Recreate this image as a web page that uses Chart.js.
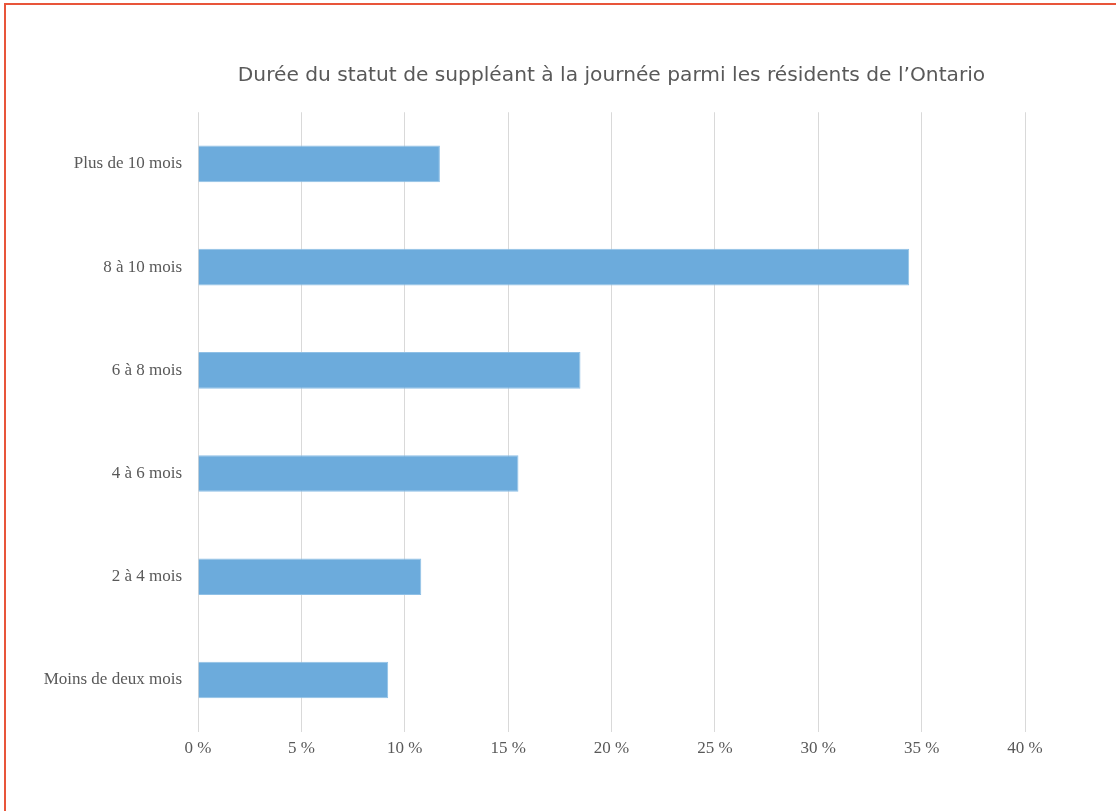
<!DOCTYPE html>
<html>
<head>
<meta charset="utf-8">
<script src="https://cdn.jsdelivr.net/npm/chart.js@4/dist/chart.umd.min.js"></script>
<style>
  html, body { margin: 0; padding: 0; background: #ffffff; }
  #wrap { position: relative; width: 1116px; height: 811px; overflow: hidden; }
  #frame { position: absolute; left: 4px; top: 3px; width: 1130px; height: 830px; border: 2px solid #e8553a; box-sizing: border-box; pointer-events: none; }
  canvas { position: absolute; left: 0; top: 0; }
</style>
</head>
<body>
<div id="wrap">
  <canvas id="c" width="1116" height="811"></canvas>
  <div id="frame"></div>
</div>
<script>
const titleText = "Durée du statut de suppléant à la journée parmi les résidents de l’Ontario";
const categories = ["Plus de 10 mois", "8 à 10 mois", "6 à 8 mois", "4 à 6 mois", "2 à 4 mois", "Moins de deux mois"];
const values = [11.7, 34.4, 18.5, 15.5, 10.8, 9.2];
const xTicks = [0, 5, 10, 15, 20, 25, 30, 35, 40];

new Chart(document.getElementById('c'), {
  type: 'bar',
  data: {
    labels: categories,
    datasets: [{
      data: values,
      backgroundColor: '#6cabdc',
      borderColor: '#8fc0e6',
      borderWidth: 1,
      barPercentage: 0.355,
      categoryPercentage: 1.0
    }]
  },
  options: {
    indexAxis: 'y',
    responsive: false,
    animation: false,
    layout: { padding: { top: 53, left: 5, right: 91, bottom: 45 } },
    plugins: {
      legend: { display: false },
      tooltip: { enabled: false },
      title: {
        display: true,
        text: titleText,
        fullSize: false,
        color: '#595959',
        font: { family: 'DejaVu Sans', size: 20.2, weight: 'normal' },
        padding: { top: 11, bottom: 24 }
      }
    },
    scales: {
      x: {
        min: 0, max: 40,
        afterBuildTicks: (axis) => { axis.ticks = xTicks.map(v => ({ value: v })); },
        grid: { color: '#d9d9d9', drawTicks: false, lineWidth: 1 },
        border: { display: false },
        ticks: {
          color: '#595959',
          font: { family: 'Liberation Serif', size: 17 },
          padding: 7,
          callback: (v) => v + ' %'
        }
      },
      y: {
        grid: { display: false, drawTicks: false },
        border: { display: false },
        afterFit: (axis) => { axis.width = 193; },
        ticks: {
          color: '#595959',
          font: { family: 'Liberation Serif', size: 17 },
          padding: 16
        }
      }
    }
  }
});
</script>
</body>
</html>
